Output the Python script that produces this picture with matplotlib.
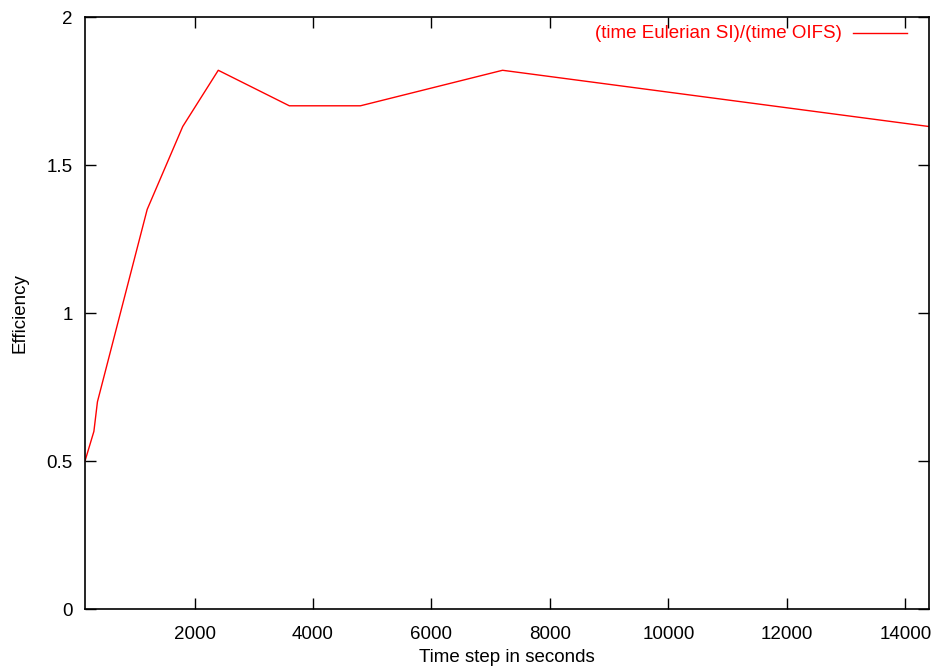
import matplotlib
matplotlib.use("Agg")
import matplotlib.pyplot as plt
from matplotlib.lines import Line2D

time_step = [150, 300, 360, 1200, 1800, 2400, 3600, 4800, 7200, 14400]
efficiency = [0.5, 0.6, 0.7, 1.35, 1.63, 1.82, 1.70, 1.70, 1.82, 1.63]
x_ticks = [2000, 4000, 6000, 8000, 10000, 12000, 14000]
y_ticks = [0, 0.5, 1, 1.5, 2]
y_tick_labels = ["0", "0.5", "1", "1.5", "2"]
series_label = "(time Eulerian SI)/(time OIFS)"

plt.rcParams['font.family'] = ['Liberation Sans', 'DejaVu Sans']
W, H = 935, 668
fig = plt.figure(figsize=(W / 100, H / 100), dpi=100)
L, R, T, B = 85, 929, 17, 609
ax = fig.add_axes([L / W, 1 - B / H, (R - L) / W, (B - T) / H])

ax.plot(time_step, efficiency, color='#ff0000', lw=1.0)
ax.set_xlim(time_step[0], time_step[-1])
ax.set_ylim(0, 2)
ax.set_xticks(x_ticks)
ax.set_yticks(y_ticks)
ax.set_yticklabels(y_tick_labels)
ax.tick_params(direction='in', length=8, width=1, top=True, right=True,
               labelsize=13.5, colors='black')
ax.tick_params(axis='x', pad=12)
ax.tick_params(axis='y', pad=9)
for s in ax.spines.values():
    s.set_linewidth(1.2)

# axis titles placed in pixel positions (origin top-left -> convert)
fig.text(507 / W, 1 - 657 / H, "Time step in seconds", fontsize=13.5,
         ha='center', va='center')
fig.text(20 / W, 1 - 313 / H, "Efficiency", fontsize=13.5, rotation=90,
         ha='center', va='center')

# gnuplot-style key: text right-aligned, sample line to the right
ax.text(842, H - 34, series_label, transform=None, color='#ff0000',
        fontsize=13.5, ha='right', va='center')
ax.add_line(Line2D([853, 907], [H - 33, H - 33], transform=None,
                   color='#ff0000', lw=1.0))
fig.savefig("out.png", dpi=100)
